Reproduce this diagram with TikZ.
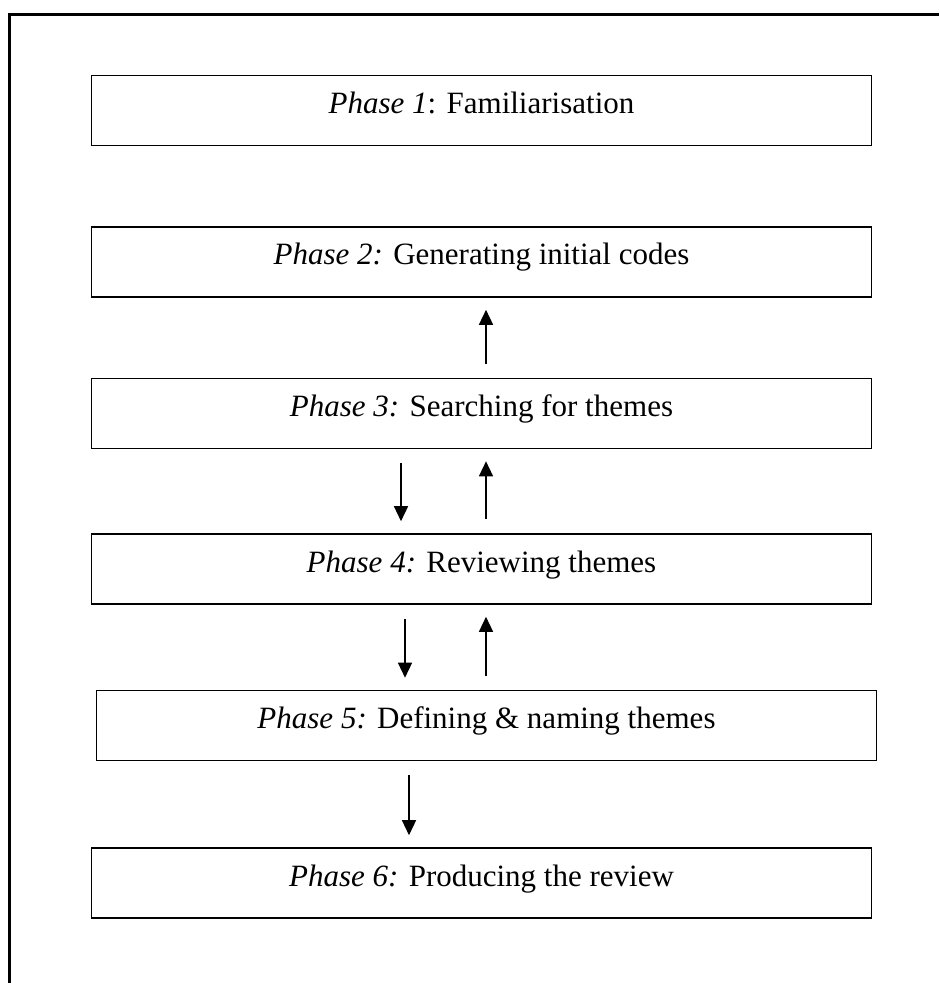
\documentclass[tikz,border=0pt]{standalone}
\usepackage{fontspec}
\setmainfont{Liberation Serif}
\usepackage{tikz}
\usetikzlibrary{arrows.meta}

\tikzset{
    phasebox/.style={draw, line width=0.8pt, inner xsep=0pt, inner ysep=0pt,
        minimum width=390pt, text height=19pt, text depth=16pt,
        font=\fontsize{15.5}{18}\selectfont},
    flow/.style={-{Triangle[length=7.5pt,width=7pt]}, line width=0.7pt,
        shorten <=7pt, shorten >=6pt}
}

\begin{document}
\begin{tikzpicture}[x=0.5pt,y=-0.5pt]
                    \useasboundingbox (0,0) rectangle (939,983);
                    \draw[line width=1.5pt] (9,983) -- (9,15) -- (939,15);

                    \node[phasebox] (P1) at (481.5,110.5) {\textit{Phase 1}: Familiarisation};
                    \node[phasebox] (P2) at (481.5,262) {\textit{Phase 2:} Generating initial codes};
                    \node[phasebox] (P3) at (481.5,413.5) {\textit{Phase 3:} Searching for themes};
                    \node[phasebox] (P4) at (481.5,569) {\textit{Phase 4:} Reviewing themes};
                    \node[phasebox] (P5) at (486.5,725.5) {\textit{Phase 5:} Defining \& naming themes};
                    \node[phasebox] (P6) at (481.5,883) {\textit{Phase 6:} Producing the review};

                    \coordinate (up) at (486,0);
                    \coordinate (down3) at (401,0);
                    \coordinate (down4) at (405,0);
                    \coordinate (down5) at (409,0);

                    \draw[flow] (P3.north -| up) -- (P2.south -| up);
                    \draw[flow] (P3.south -| down3) -- (P4.north -| down3);
                    \draw[flow] (P4.north -| up) -- (P3.south -| up);
                    \draw[flow] (P4.south -| down4) -- (P5.north -| down4);
                    \draw[flow] (P5.north -| up) -- (P4.south -| up);
                    \draw[flow] (P5.south -| down5) -- (P6.north -| down5);
\end{tikzpicture}
\end{document}
